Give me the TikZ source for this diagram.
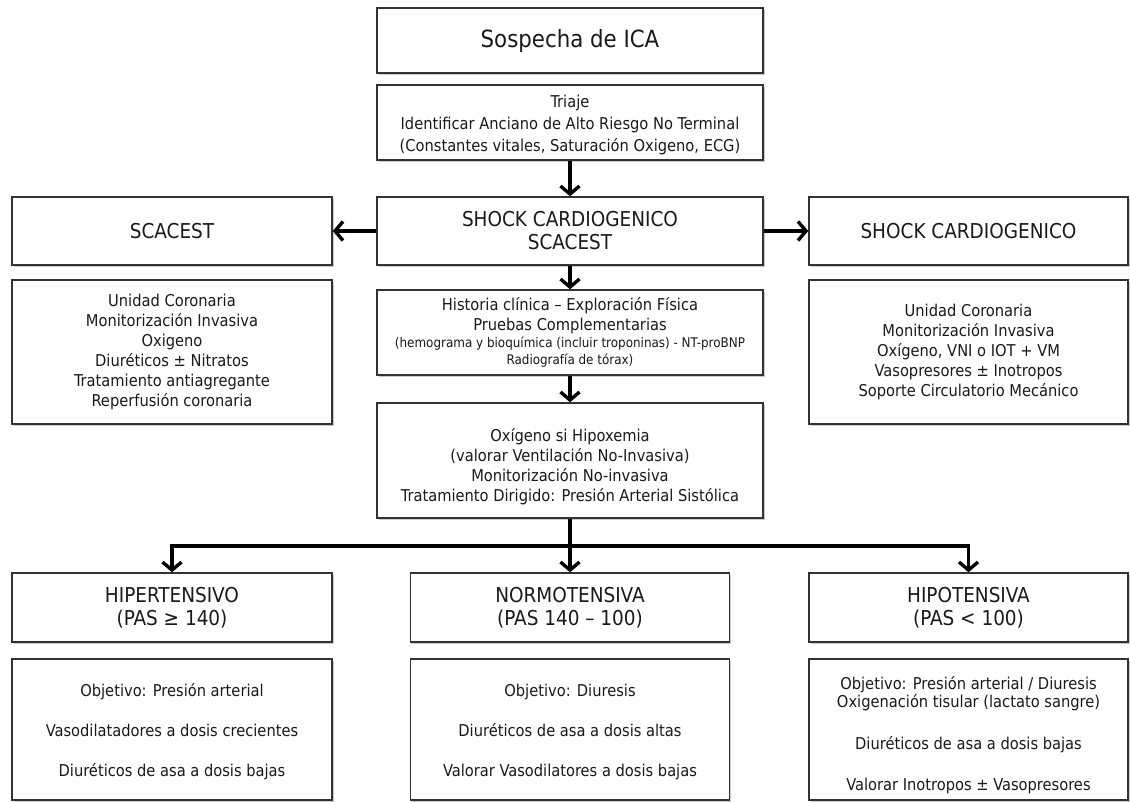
\documentclass[tikz,border=0pt]{standalone}
\usepackage{fontspec}
\setmainfont{DejaVu Sans Condensed}
\usetikzlibrary{arrows.meta,shadows}
\definecolor{ink}{HTML}{1A1A1A}
\definecolor{edge}{HTML}{333333}
\tikzset{
  box/.style={draw=edge, line width=1.5pt, fill=white, rectangle, inner sep=0pt,
    align=center, text=ink,
    drop shadow={shadow xshift=1.6pt, shadow yshift=-1.6pt, opacity=0.35, fill=black!60},
    font=\fontsize{16.3}{20}\selectfont},
  head/.style={font=\fontsize{20.5}{23}\selectfont},
  link/.style={line width=3.6pt, draw=black,
    -{Straight Barb[length=8pt,width=19pt,line width=3.4pt]}},
  bar/.style={line width=3.6pt, draw=black},
}
\begin{document}
\begin{tikzpicture}[x=1pt,y=-1pt]
\useasboundingbox (0,0) rectangle (1130,802);

% central column
\node[box, minimum width=386pt, minimum height=65pt, font=\fontsize{23.7}{26}\selectfont]
  (sospecha) at (570,40.5) {Sospecha de ICA};
\node[box, minimum width=386pt, minimum height=75pt]
  (triaje) at (570,122.5) {\\[-2pt]Triaje\\[2pt]Identificar Anciano de Alto Riesgo No Terminal\\[2pt](Constantes vitales, Saturación Oxigeno, ECG)};
\node[box, head, minimum width=386pt, minimum height=68pt]
  (shock) at (570,231) {SHOCK CARDIOGENICO\\SCACEST};
\node[box, minimum width=386pt, minimum height=85pt]
  (historia) at (570,332.5) {Historia clínica – Exploración Física\\Pruebas Complementarias\\[-3pt]
  {\fontsize{13.3}{16}\selectfont (hemograma y bioquímica (incluir troponinas) - NT-proBNP}\\[-3pt]
  {\fontsize{13.3}{16}\selectfont Radiografía de tórax)}};
\node[box, minimum width=386pt, minimum height=115pt]
  (oxigeno) at (570,460.5) {\\[6pt]Oxígeno si Hipoxemia\\(valorar Ventilación No-Invasiva)\\Monitorización No-invasiva\\Tratamiento Dirigido: Presión Arterial Sistólica};

% side branches
\node[box, head, minimum width=320pt, minimum height=68pt]
  (scacest) at (172,231) {SCACEST};
\node[box, minimum width=320pt, minimum height=144pt]
  (scacestd) at (172,352) {Unidad Coronaria\\Monitorización Invasiva\\Oxigeno\\Diuréticos ± Nitratos\\Tratamiento antiagregante\\Reperfusión coronaria};
\node[box, head, minimum width=319pt, minimum height=68pt]
  (shockr) at (968.5,231) {SHOCK CARDIOGENICO};
\node[box, minimum width=319pt, minimum height=144pt]
  (shockd) at (968.5,352) {Unidad Coronaria\\Monitorización Invasiva\\Oxígeno, VNI o IOT + VM\\Vasopresores ± Inotropos\\Soporte Circulatorio Mecánico};

% blood pressure groups
\node[box, head, minimum width=320pt, minimum height=69pt]
  (hiper) at (172,607.5) {HIPERTENSIVO\\(PAS ≥ 140)};
\node[box, head, minimum width=319pt, minimum height=69pt]
  (normo) at (570,607.5) {NORMOTENSIVA\\(PAS 140 – 100)};
\node[box, head, minimum width=319pt, minimum height=69pt]
  (hipo) at (968.5,607.5) {HIPOTENSIVA\\(PAS < 100)};

\node[box, minimum width=320pt, minimum height=141pt]
  (hiperd) at (172,729.5) {\\[-2pt]Objetivo: Presión arterial\\[20pt]Vasodilatadores a dosis crecientes\\[20pt]Diuréticos de asa a dosis bajas};
\node[box, minimum width=319pt, minimum height=141pt]
  (normod) at (570,729.5) {\\[-2pt]Objetivo: Diuresis\\[20pt]Diuréticos de asa a dosis altas\\[20pt]Valorar Vasodilatores a dosis bajas};
\node[box, minimum width=319pt, minimum height=141pt]
  (hipod) at (968.5,729.5) {\\[4pt]Objetivo: Presión arterial / Diuresis\\[-2pt]Oxigenación tisular (lactato sangre)\\[22pt]Diuréticos de asa a dosis bajas\\[21pt]Valorar Inotropos ± Vasopresores};

% connectors
\draw[link] (triaje.south) -- (shock.north);
\draw[link] (shock.south) -- (historia.north);
\draw[link] (historia.south) -- (oxigeno.north);
\draw[link] (shock.west) -- (scacest.east);
\draw[link] (shock.east) -- (shockr.west);

\coordinate (split) at (570,546);
\draw[bar] (oxigeno.south) -- (split);
\draw[link] (split) -| (hiper.north);
\draw[link] (split) -| (hipo.north);
\draw[link] (split) -- (normo.north);
\end{tikzpicture}
\end{document}
